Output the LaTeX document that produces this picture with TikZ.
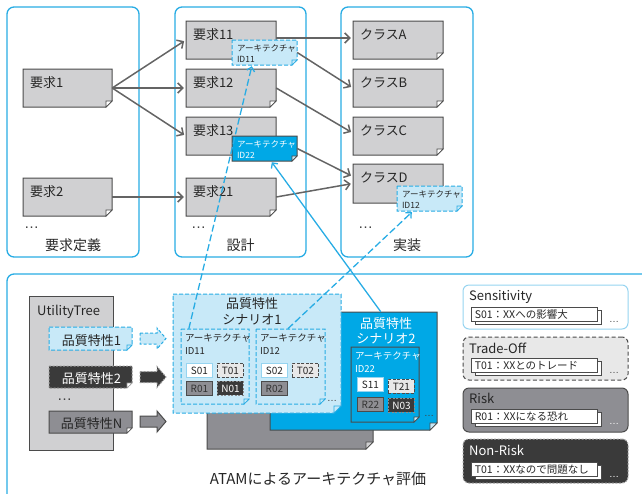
\documentclass[tikz,border=0pt]{standalone}
\usepackage{fontspec}
\newfontfamily\jp{Noto Sans CJK JP}
\newfontfamily\lat{Liberation Sans}
\usetikzlibrary{arrows.meta,calc,fit}
\definecolor{cyanline}{RGB}{40,172,228}
\definecolor{scentwo}{RGB}{0,168,230}
\definecolor{lightblue}{RGB}{200,233,248}
\definecolor{docgray}{RGB}{208,208,210}
\definecolor{midgray}{RGB}{142,142,147}
\definecolor{darkfill}{RGB}{58,58,58}
\definecolor{bordergray}{RGB}{75,75,75}
\definecolor{arrowgray}{RGB}{100,100,100}
\definecolor{tradegray}{RGB}{232,232,232}
\definecolor{sensline}{RGB}{150,212,240}
\newcommand{\docshp}[8]{%
  \path[#7] (#2,#3) -- (#4,#3) -- (#4,#5-#6) -- (#4-#6,#5) -- (#2,#5) -- cycle;
  \path[#8] (#4,#5-#6) -- (#4-#6,#5-#6) -- (#4-#6,#5) -- cycle;
  \node[fit={(#2,#3) (#4,#5)}, inner sep=0pt] (#1) {};
}
\tikzset{
  frame/.style={draw=cyanline, line width=1.3pt, rounded corners=7pt, inner sep=0pt},
  graydoc/.style={fill=docgray, draw=bordergray, line width=1pt},
  grayfold/.style={fill=white, draw=bordergray, line width=0.7pt},
  lighttag/.style={fill=lightblue, draw=cyanline, line width=1pt, dash pattern=on 4pt off 2pt},
  lightfold/.style={fill=lightblue, draw=cyanline, line width=0.7pt},
  cyantag/.style={fill=scentwo, draw=bordergray, line width=1pt},
  cyanfold/.style={fill=lightblue, draw=bordergray, line width=0.7pt},
  garrow/.style={draw=arrowgray, line width=1.5pt, -{Straight Barb[length=5pt,width=10pt]}, shorten >=2pt},
  bluedash/.style={draw=cyanline, line width=1.3pt, dash pattern=on 7pt off 3pt, -{Straight Barb[length=4pt,width=8pt]}},
  blueline/.style={draw=cyanline, line width=1.3pt, -{Straight Barb[length=4pt,width=8pt]}},
  txt/.style={inner sep=0pt, text=black!85, font=\jp\fontsize{#1}{#1}\selectfont},
  txt/.default=13,
  dots/.style={inner sep=0pt, text=black!75, font=\lat\fontsize{#1}{#1}\selectfont},
  dots/.default=15,
  stag/.style={minimum width=26pt, minimum height=14pt, inner sep=0pt, anchor=north west, font=\jp\fontsize{10}{10}\selectfont},
  stagS/.style={stag, fill=white, draw=sensline, line width=1pt, text=black!85},
  stagT/.style={stag, fill=tradegray, draw=bordergray, line width=0.9pt, dash pattern=on 3pt off 1.5pt, text=black!85},
  stagR/.style={stag, fill=midgray, draw=bordergray, line width=0.9pt, text=black!80},
  stagN/.style={stag, fill=darkfill, draw=black!45, line width=0.9pt, dash pattern=on 2pt off 1.5pt, text=white},
  leg/.style={rounded corners=6pt, inner sep=0pt, line width=1pt},
  itemfront/.style={fill=white, draw=bordergray, line width=0.8pt},
}
\begin{document}
\begin{tikzpicture}[x=1pt, y=-1pt]
\useasboundingbox (0,0) rectangle (642,493);
\clip (0,0) rectangle (642,493);

% top frames
\node[frame, fit={(7,7) (139,257)}] (f1) {};
\node[frame, fit={(175,7) (306,257)}] (f2) {};
\node[frame, fit={(341,7) (473,257)}] (f3) {};

% documents
\docshp{r1}{23}{69}{112}{107}{6}{graydoc}{grayfold}
\docshp{r2}{23}{178}{112}{216}{6}{graydoc}{grayfold}
\docshp{r11}{186}{21}{276}{59}{6}{graydoc}{grayfold}
\docshp{r12}{186}{69}{276}{107}{6}{graydoc}{grayfold}
\docshp{r13}{186}{117}{276}{155}{6}{graydoc}{grayfold}
\docshp{r21}{186}{178}{276}{216}{6}{graydoc}{grayfold}
\docshp{ca}{353}{21}{443}{59}{6}{graydoc}{grayfold}
\docshp{cb}{353}{69}{443}{107}{6}{graydoc}{grayfold}
\docshp{cc}{353}{117}{443}{155}{6}{graydoc}{grayfold}
\docshp{cd}{353}{164}{443}{203}{6}{graydoc}{grayfold}

\node[txt, anchor=base west] (tr1) at ($(r1.north west)+(7,19)$) {要求1};
\node[txt, anchor=base west] (tr2) at ($(r2.north west)+(7,19)$) {要求2};
\node[txt, anchor=base west] (tr11) at ($(r11.north west)+(7,19)$) {要求11};
\node[txt, anchor=base west] (tr12) at ($(r12.north west)+(7,19)$) {要求12};
\node[txt, anchor=base west] (tr13) at ($(r13.north west)+(7,19)$) {要求13};
\node[txt, anchor=base west] (tr21) at ($(r21.north west)+(7,19)$) {要求21};
\node[txt, anchor=base west] (tca) at ($(ca.north west)+(7,19)$) {クラスA};
\node[txt, anchor=base west] (tcb) at ($(cb.north west)+(7,19)$) {クラスB};
\node[txt, anchor=base west] (tcc) at ($(cc.north west)+(7,19)$) {クラスC};
\node[txt, anchor=base west] (tcd) at ($(cd.north west)+(7,19)$) {クラスD};

\node[dots, anchor=base west] (d1) at (24,228) {…};
\node[dots, anchor=base west] (d2) at (191,228) {…};
\node[dots, anchor=base west] (d3) at (358,228) {…};

\node[txt=14, anchor=base] (l1) at (73,250) {要求定義};
\node[txt=14, anchor=base] (l2) at (240.5,250) {設計};
\node[txt=14, anchor=base] (l3) at (407,250) {実装};

% gray arrows
\draw[garrow] (r1.east) -- (r11.west);
\draw[garrow] (r1.east) -- (r12.west);
\draw[garrow] (r1.east) -- (r13.west);
\draw[garrow] (r2.east) -- (r21.west);
\draw[garrow] ($(r11.east)+(0,-2)$) -- ($(ca.west)+(0,-2)$);
\draw[garrow] (r12.east) -- ($(cc.west)+(0,-3)$);
\draw[garrow] (r21.east) -- (cd.west);

% bottom frame
\node[frame, fit={(7,274) (670,520)}] (fb) {};

% utility tree
\node[fill=docgray, draw=bordergray, line width=1pt, inner sep=0pt, fit={(29,296) (113,450)}] (ut) {};
\node[txt, anchor=base west] (utt) at (37,315) {UtilityTree};
\docshp{q1}{49}{327}{132}{350}{5}{lighttag}{lightfold}
\docshp{q2}{49}{366}{132}{388}{5}{fill=darkfill, draw=black!40, line width=1pt, dash pattern=on 2pt off 1.5pt}{fill=white, draw=black!40, line width=0.6pt}
\docshp{qn}{49}{411}{132}{433}{5}{fill=midgray, draw=bordergray, line width=1pt}{fill=white, draw=bordergray, line width=0.6pt}
\node[txt, anchor=base] (tq1) at (91.5,345) {品質特性1};
\node[txt, anchor=base, text=white] (tq2) at (91.5,383) {品質特性2};
\node[txt, anchor=base] (tqn) at (91.5,428) {品質特性N};
\node[dots, anchor=base west] (d4) at (57,400) {…};

% block arrows
\path[fill=lightblue, draw=cyanline, line width=1pt, dash pattern=on 3pt off 2pt]
  (140,333) -- (157,333) -- (157,328) -- (166,338.5) -- (157,349) -- (157,344) -- (140,344) -- cycle;
\path[fill=darkfill, draw=black!40, line width=1pt, dash pattern=on 2pt off 1.5pt]
  (140,371.5) -- (157,371.5) -- (157,366.5) -- (166,377) -- (157,387.5) -- (157,382.5) -- (140,382.5) -- cycle;
\path[fill=midgray, draw=bordergray, line width=1pt]
  (140,416) -- (157,416) -- (157,411) -- (166,421.5) -- (157,432) -- (157,427) -- (140,427) -- cycle;

% scenario stack
\docshp{sg}{207}{330}{373}{449}{7}{fill=midgray, draw=bordergray, line width=1pt}{fill=docgray, draw=bordergray, line width=0.7pt}
\docshp{s2}{270}{312}{437}{430}{7}{fill=scentwo, draw=bordergray, line width=1pt}{cyanfold}
\docshp{s1}{173}{294}{341}{413}{7}{lighttag}{lightfold}

\node[txt, anchor=base] (ts1a) at (252,308) {品質特性};
\node[txt, anchor=base] (ts1b) at (252,324) {シナリオ1};
\node[txt, anchor=base, text=white] (ts2a) at (386,328) {品質特性};
\node[txt, anchor=base, text=white] (ts2b) at (386,343) {シナリオ2};

\docshp{b11}{181}{329}{249}{404}{5}{lighttag}{lightfold}
\docshp{b12}{256}{329}{325}{404}{5}{lighttag}{lightfold}
\docshp{b22}{351}{347}{419}{422}{5}{cyantag}{cyanfold}
\node[txt=9.5, anchor=base west] (tb11a) at ($(b11.north west)+(4,13)$) {アーキテクチャ};
\node[txt=9.5, anchor=base west] (tb11b) at ($(b11.north west)+(4,26)$) {ID11};
\node[txt=9.5, anchor=base west] (tb12a) at ($(b12.north west)+(4,13)$) {アーキテクチャ};
\node[txt=9.5, anchor=base west] (tb12b) at ($(b12.north west)+(4,26)$) {ID12};
\node[txt=9.5, anchor=base west, text=white] (tb22a) at ($(b22.north west)+(4,13)$) {アーキテクチャ};
\node[txt=9.5, anchor=base west, text=white] (tb22b) at ($(b22.north west)+(4,26)$) {ID22};

\node[stagS] (s01) at (186,363) {S01};
\node[stagT] (t01) at (217,363) {T01};
\node[stagR] (r01) at (186,381) {R01};
\node[stagN] (n01) at (217,381) {N01};
\node[stagS] (s02) at (261,363) {S02};
\node[stagT] (t02) at (292,363) {T02};
\node[stagR] (r02) at (261,381) {R02};
\node[stagS] (s11) at (357,377) {S11};
\node[stagT] (t21) at (388,379) {T21};
\node[stagR] (r22) at (357,397) {R22};
\node[stagN] (n03) at (388,398) {N03};
\node[dots=10, anchor=base west] (d5) at (327,401) {…};
\node[dots=10, anchor=base west] (d6) at (424,416) {…};

% tags on top row
\docshp{tA}{232}{40}{297}{65}{5}{lighttag}{lightfold}
\docshp{tB}{232}{136}{297}{161}{5}{cyantag}{cyanfold}
\docshp{tC}{397}{186}{462}{211}{5}{lighttag}{lightfold}
\node[txt=8.5, anchor=base west] (ta1) at ($(tA.north west)+(5,11.5)$) {アーキテクチャ};
\node[txt=8.5, anchor=base west] (ta2) at ($(tA.north west)+(5,23)$) {ID11};
\node[txt=8.5, anchor=base west, text=white] (tb1) at ($(tB.north west)+(5,11.5)$) {アーキテクチャ};
\node[txt=8.5, anchor=base west, text=white] (tb2) at ($(tB.north west)+(5,23)$) {ID22};
\node[txt=8.5, anchor=base west] (tc1) at ($(tC.north west)+(5,11.5)$) {アーキテクチャ};
\node[txt=8.5, anchor=base west] (tc2) at ($(tC.north west)+(5,23)$) {ID12};

\draw[garrow] (tA.east) -- (cb.west);
\draw[garrow] (tB.east) -- ($(cd.west)+(0,-7)$);

% blue connectors
\draw[bluedash] ($(b11.north west)+(8,0)$) -- ($(tA.south west)+(20,1)$);
\draw[bluedash] ($(b12.north west)+(32,0)$) -- ($(tC.south west)+(15,1)$);
\draw[blueline] ($(s2.north west)+(111,0)$) -- ($(tB.south west)+(40,1)$);

% legend
\node[leg, fill=white, draw=sensline, fit={(463,285) (628,329)}] (lS) {};
\node[leg, fill=tradegray, draw=bordergray, dash pattern=on 4pt off 2.5pt, fit={(463,337) (628,380)}] (lT) {};
\node[leg, fill=midgray, draw=bordergray, fit={(463,388) (628,432)}] (lR) {};
\node[leg, fill=darkfill, draw=black!35, dash pattern=on 2pt off 1.5pt, fit={(463,439) (628,483)}] (lN) {};
\node[txt, anchor=base west] (lSt) at (469,300) {Sensitivity};
\node[txt, anchor=base west] (lTt) at (469,353) {Trade-Off};
\node[txt, anchor=base west] (lRt) at (469,403) {Risk};
\node[txt, anchor=base west, text=white] (lNt) at (469,455) {Non-Risk};

\foreach \ty/\nm/\lab [count=\i] in {307/iS/{S01：XXへの影響大}, 358/iT/{T01：XXとのトレード}, 409/iR/{R01：XXになる恐れ}, 462/iN/{T01：XXなので問題なし}} {
  \path[itemfront] (475,\ty+3) rectangle (601,\ty+17);
  \node[itemfront, inner sep=0pt, fit={(471,\ty) (597,\ty+14)}] (\nm) {};
  \node[txt=10.5, anchor=base west] (\nm t) at ($(\nm.north west)+(4,11.5)$) {\lab};
  \node[dots=10, anchor=base west, text=\ifnum\i>2 white\else black!70\fi] (\nm d) at (609,\ty+15) {…};
}

\node[txt=15, anchor=base] (title) at (318,484) {ATAMによるアーキテクチャ評価};
\end{tikzpicture}
\end{document}
